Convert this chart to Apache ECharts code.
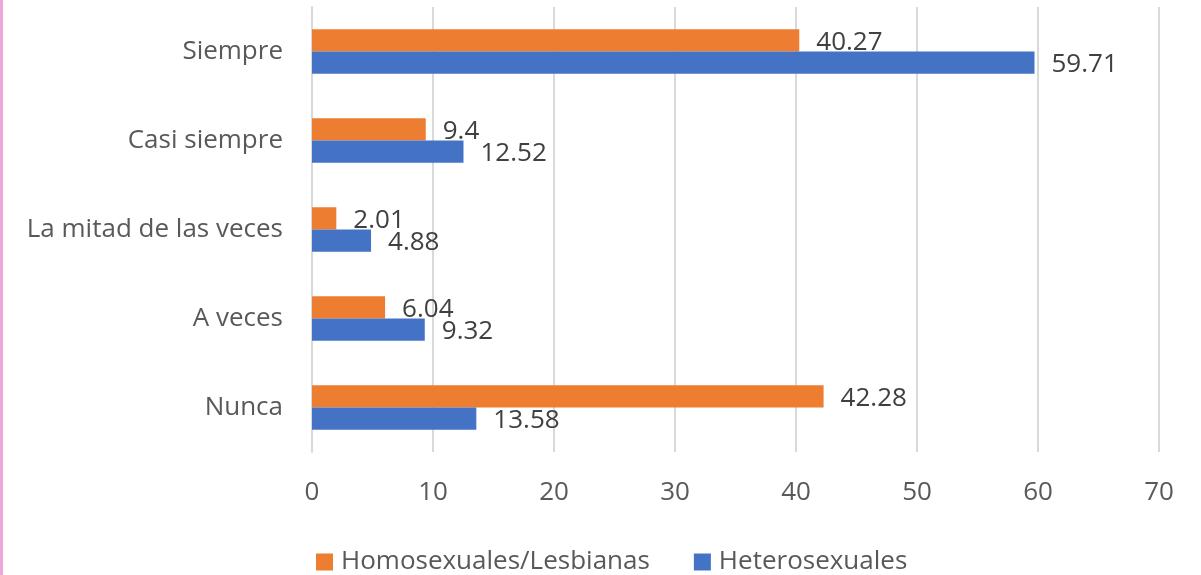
<!DOCTYPE html>
<html><head><meta charset="utf-8">
<script src="https://cdn.jsdelivr.net/npm/echarts@6/dist/echarts.min.js"></script>
<style>html,body{margin:0;padding:0;background:#fff}#c{width:1201px;height:575px}</style>
</head><body><div id="c"></div>
<script>
const categories = ["Siempre", "Casi siempre", "La mitad de las veces", "A veces", "Nunca"];
const homosexuales = [40.27, 9.4, 2.01, 6.04, 42.28];
const heterosexuales = [59.71, 12.52, 4.88, 9.32, 13.58];
const seriesNames = ["Homosexuales/Lesbianas", "Heterosexuales"];
const xTicks = [0, 10, 20, 30, 40, 50, 60, 70];

const FONT = "'Open Sans', 'Noto Sans', sans-serif";
const TXT = '#595959';
const chart = echarts.init(document.getElementById('c'), null, {renderer: 'canvas'});
const labelCfg = {show: true, position: 'right', distance: 17, offset: [0, 2], color: '#404040', fontSize: 26, fontFamily: FONT};
chart.setOption({
  animation: false,
  backgroundColor: '#ffffff',
  graphic: [{type: 'rect', shape: {x: 0, y: 0, width: 3, height: 575}, style: {fill: '#f2a6d8'}}],
  grid: {left: 312, right: 42, top: 7, bottom: 123},
  legend: {
    left: 311, top: 544, itemWidth: 17, itemHeight: 17, itemGap: 44, icon: 'rect',
    textStyle: {fontSize: 26, color: TXT, fontFamily: FONT, padding: [0, 0, 0, 3]},
    data: seriesNames
  },
  xAxis: {
    type: 'value', min: xTicks[0], max: xTicks[xTicks.length - 1], interval: 10,
    axisLine: {show: false}, axisTick: {show: false},
    splitLine: {lineStyle: {color: '#d9d9d9', width: 2}},
    axisLabel: {fontSize: 26, color: TXT, fontFamily: FONT, margin: 28}
  },
  yAxis: {
    type: 'category', data: categories, inverse: true,
    axisLine: {lineStyle: {color: '#d9d9d9', width: 2}}, axisTick: {show: false},
    axisLabel: {fontSize: 26, color: TXT, fontFamily: FONT, margin: 29}
  },
  series: [
    {name: seriesNames[0], type: 'bar', data: homosexuales, barGap: '0%', barCategoryGap: '50%',
     itemStyle: {color: '#ED7D31'}, label: labelCfg},
    {name: seriesNames[1], type: 'bar', data: heterosexuales, barGap: '0%', barCategoryGap: '50%',
     itemStyle: {color: '#4472C4'}, label: labelCfg}
  ]
});
</script></body></html>
